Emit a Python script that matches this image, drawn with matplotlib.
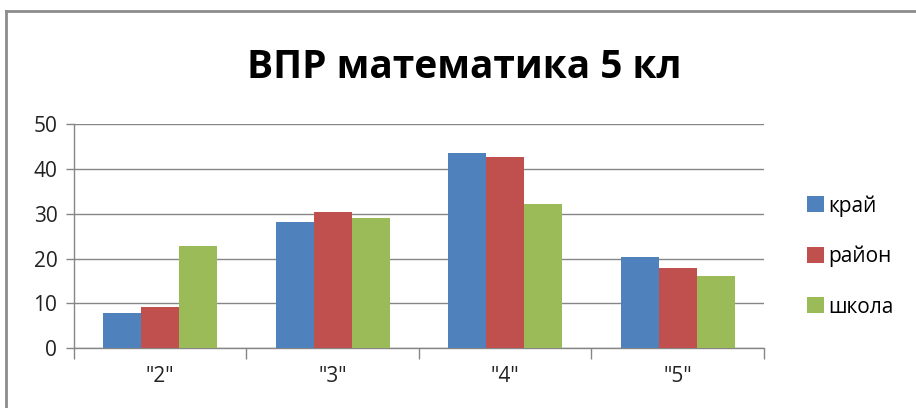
import matplotlib.pyplot as plt
import numpy as np
from matplotlib.lines import Line2D

categories = ['"2"', '"3"', '"4"', '"5"']
series_names = ["край", "район", "школа"]
krai = [7.8, 28.1, 43.6, 20.4]
raion = [9.2, 30.4, 42.7, 17.8]
shkola = [22.7, 29.0, 32.1, 16.1]
y_ticks = [0, 10, 20, 30, 40, 50]

colors = ["#4F81BD", "#C0504D", "#9BBB59"]
grid_color = "#868686"

plt.rcParams["font.family"] = ["Open Sans", "DejaVu Sans"]

fig = plt.figure(figsize=(9.16, 4.08), dpi=100)
ax = fig.add_axes([0.0808, 0.1463, 0.7532, 0.5497])

x = np.arange(len(categories))
w = 0.22
for i, (vals, name) in enumerate(zip([krai, raion, shkola], series_names)):
    ax.bar(x + (i - 1) * w, vals, width=w, color=colors[i], label=name, zorder=3)

ax.set_xlim(-0.5, len(categories) - 0.5)
ax.set_ylim(0, 50)
ax.set_yticks(y_ticks)
ax.yaxis.grid(True, color=grid_color, linewidth=1, zorder=0)

# category ticks sit between groups, labels centered on groups
ax.set_xticks(np.arange(-0.5, len(categories)), minor=False)
ax.set_xticklabels([])
ax.set_xticks(x, minor=True)
ax.set_xticklabels(categories, minor=True)
ax.tick_params(axis="x", which="major", length=8, color=grid_color, width=1)
ax.tick_params(axis="x", which="minor", length=0, pad=13, labelsize=15, labelcolor="#222222")
ax.tick_params(axis="y", length=6, color=grid_color, width=1, labelsize=15, labelcolor="#222222", pad=6)

for s in ["top", "right"]:
    ax.spines[s].set_visible(False)
for s in ["left", "bottom"]:
    ax.spines[s].set_color(grid_color)
    ax.spines[s].set_linewidth(1)

fig.text(0.507, 0.835, "ВПР математика 5 кл", ha="center", va="center",
         fontsize=28, fontweight="bold", family=["Open Sans", "DejaVu Sans"])

ax.legend(loc="center left", bbox_to_anchor=(1.035, 0.41), frameon=False,
          fontsize=15, handlelength=0.8, handleheight=0.8, handletextpad=0.25,
          labelspacing=1.4)

# outer chart frame (left and top edges only visible)
fig.add_artist(Line2D([6 / 916, 6 / 916], [0, 1 - 11 / 408], transform=fig.transFigure,
                      color="#8c8c8c", linewidth=2))
fig.add_artist(Line2D([6 / 916, 1], [1 - 11 / 408, 1 - 11 / 408], transform=fig.transFigure,
                      color="#8c8c8c", linewidth=2))

fig.savefig("out.png", dpi=100)
